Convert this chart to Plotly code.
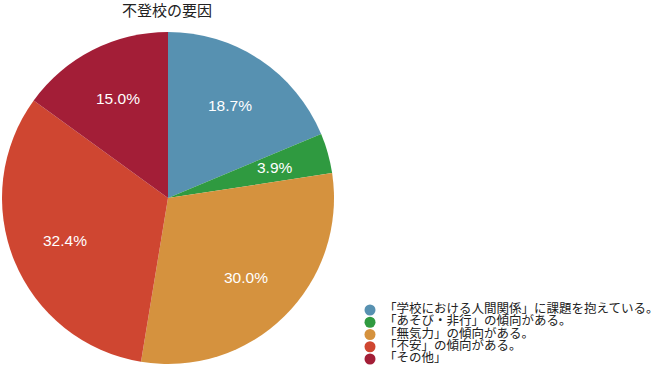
import math
import plotly.graph_objects as go

title = "不登校の要因"
labels = [
    "「学校における人間関係」に課題を抱えている。",
    "「あそび・非行」の傾向がある。",
    "「無気力」の傾向がある。",
    "「不安」の傾向がある。",
    "「その他」",
]
values = [18.7, 3.9, 30.0, 32.4, 15.0]
colors = ["#5791b1", "#2f9a40", "#d5923e", "#cf4631", "#a31e37"]

W, H = 660, 372
CX, CY, R = 168, 198, 166  # pie centre / radius in page pixels

fig = go.Figure()
fig.add_trace(go.Pie(
    labels=labels, values=values, sort=False, direction="clockwise", rotation=0,
    marker=dict(colors=colors, line=dict(width=0)),
    textinfo="none",
    domain=dict(x=[(CX - R) / W, (CX + R) / W], y=[1 - (CY + R) / H, 1 - (CY - R) / H]),
    showlegend=False, hoverinfo="label+percent",
))

# percentage labels at the middle angle of each slice (derived from the values)
total = sum(values)
cum = 0.0
for v in values:
    mid = (cum + v / 2) / total * 2 * math.pi
    cum += v
    px = CX + 0.67 * R * math.sin(mid)
    py = CY - 0.67 * R * math.cos(mid)
    fig.add_annotation(
        x=px / W, y=1 - py / H, xref="paper", yref="paper", showarrow=False,
        text=f"{v:.1f}%", xanchor="center", yanchor="middle",
        font=dict(family="Liberation Sans, Arial, sans-serif", size=15.5, color="white"),
    )

# legend drawn as marker + text scatters on hidden axes
idx = list(range(len(labels)))
fig.add_trace(go.Scatter(
    x=[40] * len(labels), y=idx, mode="markers",
    marker=dict(color=colors, size=11),
    showlegend=False, hoverinfo="skip",
))
fig.add_trace(go.Scatter(
    x=[54] * len(labels), y=idx, mode="text",
    text=labels, textposition="middle right",
    textfont=dict(family="Noto Sans CJK JP", size=12.5, color="#222"),
    showlegend=False, hoverinfo="skip",
))

fig.update_layout(
    width=W, height=H, margin=dict(l=0, r=0, t=0, b=0),
    paper_bgcolor="white", plot_bgcolor="rgba(0,0,0,0)",
    title=dict(text=title, x=167 / W, xanchor="center", y=1 - 11 / H, yanchor="middle",
               font=dict(family="Noto Sans CJK JP", size=15, color="#222")),
    xaxis=dict(domain=[0.5, 1], range=[0, 330], visible=False, fixedrange=True),
    yaxis=dict(domain=[4 / H, 72 / H], range=[4.735, -0.816], visible=False, fixedrange=True),
)

fig.write_html("out.html", config={"displayModeBar": False},
               post_script="document.body.style.margin='0px';")
